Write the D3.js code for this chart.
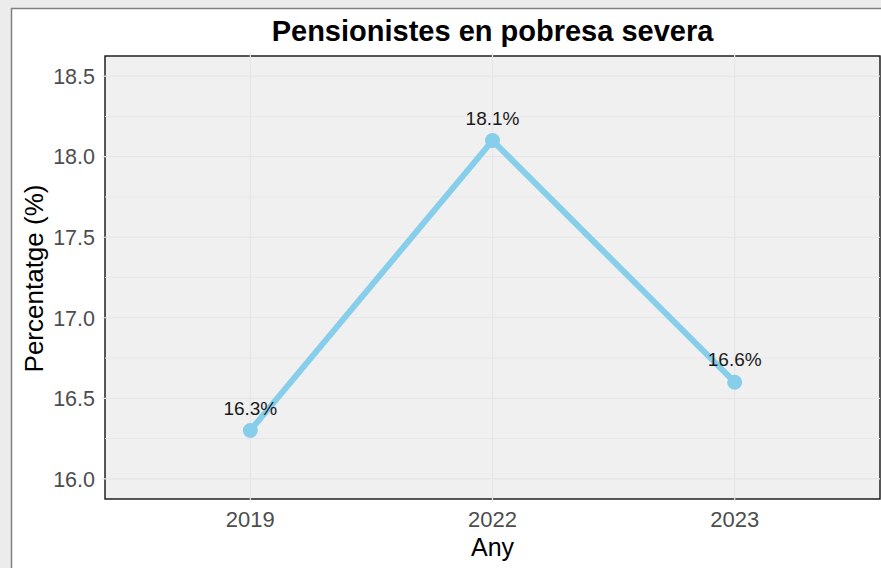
<!DOCTYPE html>
<html>
<head>
<meta charset="utf-8">
<script src="https://cdn.jsdelivr.net/npm/d3@7"></script>
<style>
  html, body { margin: 0; padding: 0; background: #ececec; }
  svg { display: block; font-family: "Liberation Sans", Arial, sans-serif; }
</style>
</head>
<body>
<div id="chart"></div>
<script>
// Data
var years = ["2019", "2022", "2023"];
var values = [16.3, 18.1, 16.6];
var yTicks = [16.0, 16.5, 17.0, 17.5, 18.0, 18.5];
var yMinor = [16.25, 16.75, 17.25, 17.75, 18.25];

var W = 881, H = 568;
var m = {top: 56, right: 1, bottom: 69, left: 105};
var w = W - m.left - m.right, h = H - m.top - m.bottom;

var svg = d3.select("#chart").append("svg")
  .attr("width", W)
  .attr("height", H);

// outer frame
svg.append("rect").attr("x", 0).attr("y", 0).attr("width", W).attr("height", H).attr("fill", "#ececec");
svg.append("rect")
  .attr("x", 11.5).attr("y", 8.5).attr("width", W + 10).attr("height", H + 10)
  .attr("fill", "#ffffff").attr("stroke", "#808080").attr("stroke-width", 1.5);

// scales (limits 16..18.5 with 5% expansion, discrete x with 0.6 expansion)
var y = d3.scaleLinear().domain([15.875, 18.625]).range([h, 0]);
var xBand = d3.scalePoint().domain(years).range([0, w]).padding(0.6);

var g = svg.append("g").attr("transform", "translate(" + m.left + "," + m.top + ")");

// panel
g.append("rect").attr("width", w).attr("height", h).attr("fill", "#f0f0f0");
g.append("rect").attr("width", w).attr("height", h)
  .attr("fill", "none").attr("stroke", "#111").attr("stroke-width", 1.4);

// grid
g.selectAll(".minor").data(yMinor).enter().append("line")
  .attr("x1", 0).attr("x2", w)
  .attr("y1", function(d) { return y(d); }).attr("y2", function(d) { return y(d); })
  .attr("stroke", "#e8e8e8").attr("stroke-width", 1);
g.selectAll(".major").data(yTicks).enter().append("line")
  .attr("x1", -3).attr("x2", w)
  .attr("y1", function(d) { return y(d); }).attr("y2", function(d) { return y(d); })
  .attr("stroke", "#e6e6e6").attr("stroke-width", 1.2);
g.selectAll(".vgrid").data(years).enter().append("line")
  .attr("x1", function(d) { return xBand(d); }).attr("x2", function(d) { return xBand(d); })
  .attr("y1", -3).attr("y2", h + 3)
  .attr("stroke", "#e6e6e6").attr("stroke-width", 1.2);

// axis labels
g.selectAll(".ytick").data(yTicks).enter().append("text")
  .attr("x", -10).attr("y", function(d) { return y(d); })
  .attr("dy", "0.36em").attr("text-anchor", "end")
  .attr("font-size", 21.5).attr("fill", "#4d4d4d")
  .text(function(d) { return d.toFixed(1); });
g.selectAll(".xtick").data(years).enter().append("text")
  .attr("x", function(d) { return xBand(d); }).attr("y", h + 28)
  .attr("text-anchor", "middle")
  .attr("font-size", 22).attr("fill", "#4d4d4d")
  .text(function(d) { return d; });

// line + points
var data = years.map(function(d, i) { return {year: d, value: values[i]}; });
var line = d3.line()
  .x(function(d) { return xBand(d.year); })
  .y(function(d) { return y(d.value); });
g.append("path").datum(data)
  .attr("d", line)
  .attr("fill", "none").attr("stroke", "#87CEEB")
  .attr("stroke-width", 6).attr("stroke-linejoin", "round");
g.selectAll(".pt").data(data).enter().append("circle")
  .attr("cx", function(d) { return xBand(d.year); })
  .attr("cy", function(d) { return y(d.value); })
  .attr("r", 7.5).attr("fill", "#87CEEB");
g.selectAll(".lbl").data(data).enter().append("text")
  .attr("x", function(d) { return xBand(d.year); })
  .attr("y", function(d) { return y(d.value) - 16; })
  .attr("text-anchor", "middle")
  .attr("font-size", 19).attr("fill", "#1a1a1a")
  .text(function(d) { return d.value.toFixed(1) + "%"; });

// titles
svg.append("text")
  .attr("x", m.left + w / 2).attr("y", 41)
  .attr("text-anchor", "middle")
  .attr("font-size", 29).attr("font-weight", "bold").attr("fill", "#000")
  .text("Pensionistes en pobresa severa");
svg.append("text")
  .attr("x", m.left + w / 2).attr("y", 556)
  .attr("text-anchor", "middle")
  .attr("font-size", 25).attr("fill", "#000")
  .text("Any");
svg.append("text")
  .attr("transform", "translate(43," + (m.top + h / 2 + 1) + ") rotate(-90)")
  .attr("text-anchor", "middle")
  .attr("font-size", 26).attr("fill", "#000")
  .text("Percentatge (%)");
</script>
</body>
</html>
